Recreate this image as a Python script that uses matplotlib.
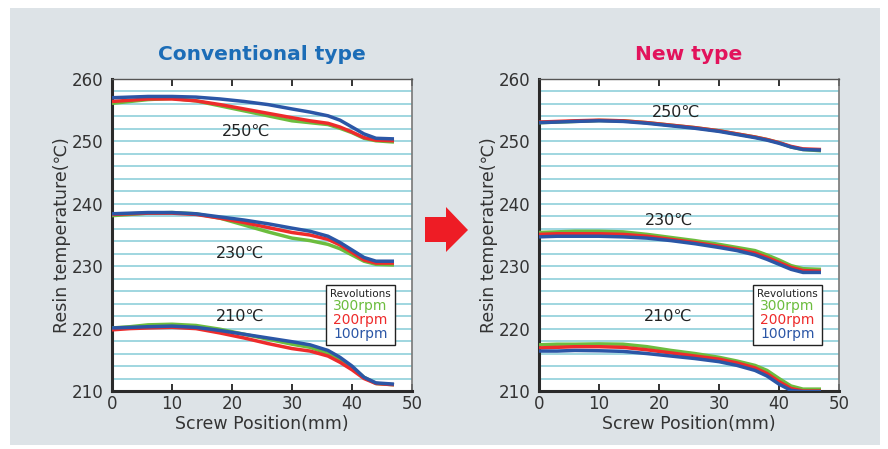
import numpy as np
import matplotlib as mpl
mpl.use("Agg")
from matplotlib import pyplot as plt
from matplotlib.patches import Rectangle, Polygon

plt.rcParams['font.family'] = ['DejaVu Sans', 'Noto Sans CJK JP']

# screw position (mm)
pos = [0, 3, 6, 10, 14, 18, 22, 26, 30, 33, 36, 38, 40, 42, 44, 47]

# conventional type
conv_250_g = [256.1, 256.4, 256.7, 256.9, 256.5, 255.7, 254.9, 254.1, 253.3, 253.0, 252.7, 252.1, 251.4, 250.5, 250.1, 249.9]
conv_250_r = [256.4, 256.6, 256.8, 256.8, 256.5, 255.9, 255.2, 254.5, 253.8, 253.3, 252.9, 252.3, 251.5, 250.6, 250.2, 250.1]
conv_250_b = [257.0, 257.1, 257.2, 257.2, 257.1, 256.8, 256.4, 255.9, 255.2, 254.7, 254.1, 253.4, 252.3, 251.2, 250.5, 250.4]
conv_230_g = [238.1, 238.3, 238.5, 238.6, 238.4, 237.7, 236.6, 235.5, 234.5, 234.1, 233.5, 232.8, 231.8, 230.8, 230.3, 230.2]
conv_230_r = [238.3, 238.4, 238.5, 238.5, 238.3, 237.7, 237.0, 236.2, 235.4, 235.0, 234.3, 233.4, 232.2, 231.0, 230.5, 230.5]
conv_230_b = [238.4, 238.5, 238.6, 238.6, 238.4, 237.9, 237.4, 236.8, 236.1, 235.6, 234.8, 233.8, 232.6, 231.4, 230.8, 230.8]
conv_210_g = [220.1, 220.3, 220.6, 220.7, 220.5, 219.9, 219.1, 218.3, 217.5, 217.0, 216.0, 215.1, 213.8, 212.2, 211.2, 211.0]
conv_210_r = [219.8, 220.0, 220.1, 220.2, 220.0, 219.3, 218.5, 217.6, 216.8, 216.4, 215.6, 214.6, 213.4, 212.0, 211.2, 211.0]
conv_210_b = [220.1, 220.2, 220.3, 220.4, 220.2, 219.7, 219.1, 218.5, 217.9, 217.4, 216.5, 215.4, 214.0, 212.2, 211.3, 211.1]

# new type
new_250_g = [253.0, 253.1, 253.2, 253.35, 253.3, 253.0, 252.6, 252.2, 251.7, 251.2, 250.7, 250.3, 249.8, 249.1, 248.7, 248.5]
new_250_r = [253.1, 253.2, 253.3, 253.4, 253.3, 253.0, 252.6, 252.2, 251.7, 251.2, 250.7, 250.3, 249.8, 249.2, 248.8, 248.7]
new_250_b = [253.0, 253.1, 253.2, 253.3, 253.2, 252.9, 252.5, 252.1, 251.6, 251.1, 250.6, 250.2, 249.7, 249.1, 248.7, 248.6]
new_230_g = [235.4, 235.5, 235.6, 235.6, 235.5, 235.1, 234.6, 234.1, 233.5, 233.0, 232.5, 231.8, 231.0, 230.1, 229.6, 229.5]
new_230_r = [235.1, 235.2, 235.2, 235.2, 235.1, 234.8, 234.3, 233.8, 233.2, 232.7, 232.1, 231.4, 230.6, 229.8, 229.3, 229.2]
new_230_b = [234.7, 234.8, 234.8, 234.8, 234.7, 234.5, 234.1, 233.6, 233.0, 232.5, 231.8, 231.1, 230.3, 229.5, 229.0, 229.0]
new_210_g = [217.4, 217.5, 217.5, 217.55, 217.5, 217.1, 216.5, 216.0, 215.4, 214.8, 214.1, 213.3, 212.0, 210.8, 210.3, 210.3]
new_210_r = [216.9, 217.0, 217.1, 217.1, 217.0, 216.6, 216.1, 215.6, 215.1, 214.5, 213.7, 212.8, 211.5, 210.4, 210.0, 210.0]
new_210_b = [216.4, 216.4, 216.5, 216.45, 216.35, 216.0, 215.6, 215.2, 214.7, 214.1, 213.3, 212.4, 211.1, 210.1, 209.9, 209.9]

rpm_labels = ['300rpm', '200rpm', '100rpm']
colors = ['#6cbd3e', '#ee2b2b', '#2b56a6']
temp_labels = ['250℃', '230℃', '210℃']

conv_groups = [[conv_250_g, conv_250_r, conv_250_b],
               [conv_230_g, conv_230_r, conv_230_b],
               [conv_210_g, conv_210_r, conv_210_b]]
new_groups = [[new_250_g, new_250_r, new_250_b],
              [new_230_g, new_230_r, new_230_b],
              [new_210_g, new_210_r, new_210_b]]

# where the temperature labels sit (data coords)
conv_label_xy = [(22.3, 251.6), (21.3, 232.0), (21.3, 222.0)]
new_label_xy = [(22.8, 254.6), (21.7, 237.3), (21.5, 222.0)]

fig = plt.figure(figsize=(8.88, 4.49), dpi=100)
fig.patch.set_facecolor('white')
fig.patches.append(Rectangle((10 / 888, 4 / 449), 870 / 888, 437 / 449, transform=fig.transFigure,
                             facecolor='#dde3e7', edgecolor='none', zorder=-10))

ax1 = fig.add_axes([112 / 888, 1 - 391 / 449, 300 / 888, 312 / 449])
ax2 = fig.add_axes([539 / 888, 1 - 391 / 449, 300 / 888, 312 / 449])


def draw(ax, groups, label_xy, title, title_color):
    ax.set_facecolor('white')
    for y in np.arange(212, 260, 2):
        ax.axhline(y, color='#8fd0da', lw=1.2, zorder=1)
    handles = []
    for grp in groups:
        hs = []
        for vals, c in zip(grp, colors):
            h, = ax.plot(pos, vals, color=c, lw=2.5, solid_capstyle='butt', zorder=3)
            hs.append(h)
        handles = hs
    for (tx, ty), t in zip(label_xy, temp_labels):
        ax.text(tx, ty, t, fontsize=11.5, color='#222222', ha='center', va='center', zorder=4)
    ax.set_xlim(0, 50)
    ax.set_ylim(210, 260)
    ax.set_xticks([0, 10, 20, 30, 40, 50])
    ax.set_yticks([210, 220, 230, 240, 250, 260])
    ax.tick_params(axis='x', direction='in', top=True, length=5, width=1.3, color='#222222',
                   labelsize=12, labelcolor='#333333', pad=3)
    ax.tick_params(axis='y', length=0, labelsize=12, labelcolor='#333333', pad=6)
    for s in ['left', 'bottom']:
        ax.spines[s].set_linewidth(2.2)
        ax.spines[s].set_color('#2a2a2a')
    ax.spines['top'].set_linewidth(1.0)
    ax.spines['top'].set_color('#555555')
    ax.spines['right'].set_linewidth(1.2)
    ax.spines['right'].set_color('#777777')
    ax.set_xlabel('Screw Position(mm)', fontsize=12.5, color='#333333', labelpad=1)
    ax.set_ylabel('Resin temperature(℃)', fontsize=12.5, color='#333333', labelpad=1)
    ax.set_title(title, fontsize=14.5, fontweight='bold', color=title_color, pad=14)
    leg = ax.legend(handles, rpm_labels, title='Revolutions', loc='lower right',
                    bbox_to_anchor=(0.943, 0.147), handlelength=0, handletextpad=0,
                    labelcolor=colors, fontsize=10, title_fontsize=7.5,
                    fancybox=False, framealpha=1, edgecolor='#222222',
                    borderpad=0.3, labelspacing=0.0, borderaxespad=0)
    leg.get_frame().set_linewidth(1.0)
    leg.get_title().set_color('#222222')
    leg.set_zorder(5)


draw(ax1, conv_groups, conv_label_xy, 'Conventional type', '#1c6db7')
draw(ax2, new_groups, new_label_xy, 'New type', '#e2135c')

# red arrow between the panels
arrow = [(425, 217), (446, 217), (446, 207), (468, 230), (446, 252), (446, 242), (425, 242)]
fig.patches.append(Polygon([(x / 888, 1 - y / 449) for x, y in arrow], closed=True,
                           transform=fig.transFigure, facecolor='#ee1c25', edgecolor='none',
                           zorder=10))

fig.savefig('out.png', dpi=100, facecolor=fig.get_facecolor())
